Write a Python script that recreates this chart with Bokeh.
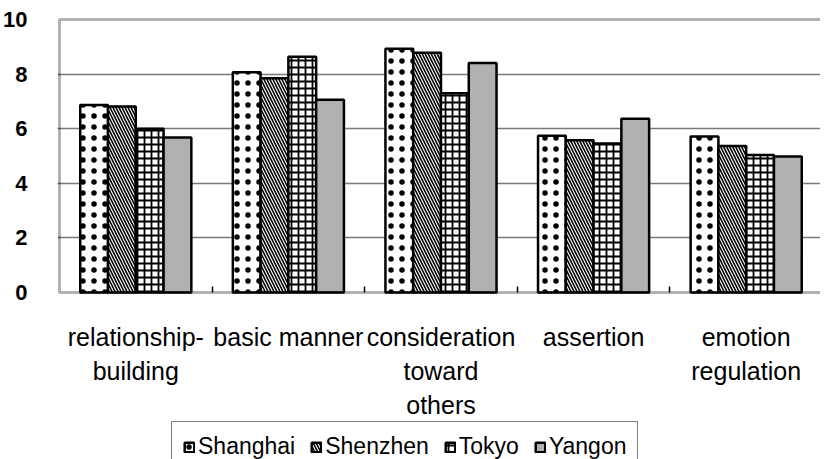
from bokeh.plotting import figure
from bokeh.models import (ColumnDataSource, Range1d, FixedTicker, BoxAnnotation, Legend, LegendItem)
from bokeh.core.properties import value
from bokeh.transform import dodge
from bokeh.embed import file_html
from bokeh.resources import INLINE

categories = ["relationship-\nbuilding", "basic manner", "consideration\ntoward\nothers",
              "assertion", "emotion\nregulation"]
cities = ["Shanghai", "Shenzhen", "Tokyo", "Yangon"]
shanghai = [6.87, 8.07, 8.93, 5.74, 5.71]
shenzhen = [6.81, 7.85, 8.78, 5.58, 5.37]
tokyo = [6.00, 8.64, 7.30, 5.46, 5.04]
yangon = [5.68, 7.06, 8.41, 6.36, 4.98]
y_ticks = [0, 2, 4, 6, 8, 10]
y_max = 10

n = len(categories)
centers = [i + 0.5 for i in range(n)]
boundaries = list(range(1, n))
src = ColumnDataSource(dict(x=centers, label=categories, Shanghai=shanghai, Shenzhen=shenzhen,
                            Tokyo=tokyo, Yangon=yangon))

FONT = "Liberation Sans"
W, H = 820, 459
LEFT, TOP = 50, 16
CAT_PX = 154.0     # pixels per category
UNIT_PX = 27.3     # pixels per y unit
frame_w = W - LEFT
frame_h = H - TOP
x0_px = 2          # x=0 this many px inside the frame
zero_px = 276      # y=0 this many px below the frame top

p = figure(width=W, height=H, output_backend="svg", toolbar_location=None,
           x_range=Range1d(-x0_px / CAT_PX, (frame_w - x0_px) / CAT_PX),
           y_range=Range1d(-(frame_h - zero_px) / UNIT_PX, zero_px / UNIT_PX),
           min_border_left=LEFT, min_border_right=0, min_border_top=TOP, min_border_bottom=0)
p.outline_line_color = None
p.background_fill_color = "white"
p.border_fill_color = "white"

bw = 0.182
offsets = [-1.5 * bw, -0.5 * bw, 0.5 * bw, 1.5 * bw]
styles = [
    dict(fill_color="white", hatch_pattern="dot", hatch_scale=11, hatch_weight=1.0, hatch_color="black"),
    dict(fill_color="white", hatch_pattern="left_diagonal_line", hatch_scale=6, hatch_weight=1.6, hatch_color="black"),
    dict(fill_color="white", hatch_pattern="cross", hatch_scale=7, hatch_weight=1.8, hatch_color="black"),
    dict(fill_color="#b0b0b0"),
]

# grid
p.xgrid.grid_line_color = None
p.ygrid.ticker = FixedTicker(ticks=[t for t in y_ticks if 0 < t < y_max])
p.ygrid.grid_line_color = "#7a7a7a"
p.ygrid.grid_line_width = 1.5

renderers = []
for city, off, st in zip(cities, offsets, styles):
    r = p.vbar(x=dodge("x", off, range=p.x_range), top=city, width=bw, source=src,
               line_color="black", line_width=2.5, **st)
    renderers.append(r)

# plot-area border
p.add_layout(BoxAnnotation(left=0, right=n, bottom=0, top=y_max, fill_color=None,
                           line_color="black", line_width=3))

# y axis
ya = p.yaxis[0]
ya.ticker = FixedTicker(ticks=y_ticks)
ya.axis_line_color = None
ya.major_tick_line_color = None
ya.minor_tick_line_color = None
ya.major_label_standoff = 24
ya.major_label_text_font = FONT
ya.major_label_text_font_size = "22px"
ya.major_label_text_font_style = "bold"
ya.major_label_text_color = "black"

# x axis: only the small boundary ticks, fixed at y=0
xa = p.xaxis[0]
xa.fixed_location = 0
xa.ticker = FixedTicker(ticks=[], minor_ticks=boundaries)
xa.axis_line_color = None
xa.major_tick_line_color = None
xa.minor_tick_line_color = "black"
xa.minor_tick_line_width = 1.5
xa.minor_tick_in = 6
xa.minor_tick_out = 0
xa.major_label_text_font_size = "0px"
xa.major_label_standoff = 0

# category labels
p.text(x="x", y=-1.10, text="label", source=src, text_align="center", text_baseline="top",
       text_font=value(FONT), text_font_size="25px", text_line_height=1.22, text_color="black")

legend = Legend(items=[LegendItem(label=c, renderers=[r]) for c, r in zip(cities, renderers)],
                orientation="horizontal", location=(114, -13))
legend.border_line_color = "black"
legend.border_line_width = 1.5
legend.background_fill_color = "white"
legend.background_fill_alpha = 1
legend.label_text_font = FONT
legend.label_text_font_size = "23px"
legend.label_text_color = "black"
legend.label_height = 23
legend.glyph_width = 12
legend.glyph_height = 12
legend.label_standoff = 3
legend.spacing = 15
legend.padding = 11
legend.margin = 0
p.add_layout(legend, "center")

open("out.html", "w").write(file_html(p, INLINE))
